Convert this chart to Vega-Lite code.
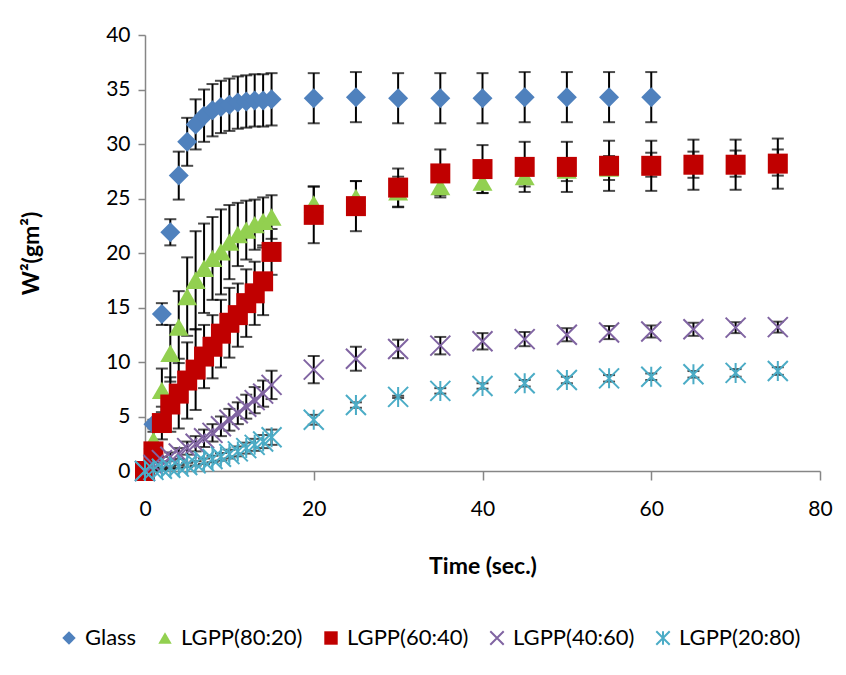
{
  "$schema": "https://vega.github.io/schema/vega-lite/v6.json",
  "width": 675,
  "height": 436,
  "autosize": "none",
  "padding": {"left": 145, "top": 35, "right": 26, "bottom": 204},
  "background": "white",
  "config": {
    "view": {"stroke": null},
    "font": "Lato",
    "axis": {
      "grid": false,
      "domainColor": "#868686",
      "domainWidth": 1.5,
      "tickColor": "#868686",
      "tickWidth": 1.5,
      "labelFont": "Lato",
      "labelFontSize": 21,
      "labelColor": "#000000",
      "labelFlush": false,
      "titleFont": "Lato",
      "titleFontSize": 23,
      "titleFontWeight": "bold",
      "titleColor": "#000000"
    },
    "legend": {
      "orient": "none",
      "legendX": -87,
      "legendY": 592,
      "direction": "horizontal",
      "columns": 5,
      "columnPadding": 17,
      "labelFont": "Lato",
      "labelFontSize": 22,
      "labelColor": "#000000",
      "labelOffset": 5,
      "symbolSize": 180,
      "symbolStrokeWidth": 2,
      "title": null
    }
  },
  "data": {
    "values": [
      {"s": "Glass", "t": 0, "v": 0, "e": 0},
      {"s": "Glass", "t": 1, "v": 4.3, "e": 0.4},
      {"s": "Glass", "t": 2, "v": 14.4, "e": 1.0},
      {"s": "Glass", "t": 3, "v": 21.9, "e": 1.2},
      {"s": "Glass", "t": 4, "v": 27.1, "e": 2.2},
      {"s": "Glass", "t": 5, "v": 30.2, "e": 2.2},
      {"s": "Glass", "t": 6, "v": 31.8, "e": 2.3},
      {"s": "Glass", "t": 7, "v": 32.6, "e": 2.4},
      {"s": "Glass", "t": 8, "v": 33.1, "e": 2.4},
      {"s": "Glass", "t": 9, "v": 33.4, "e": 2.4},
      {"s": "Glass", "t": 10, "v": 33.6, "e": 2.4},
      {"s": "Glass", "t": 11, "v": 33.8, "e": 2.4},
      {"s": "Glass", "t": 12, "v": 33.9, "e": 2.4},
      {"s": "Glass", "t": 13, "v": 34.0, "e": 2.4},
      {"s": "Glass", "t": 14, "v": 34.0, "e": 2.4},
      {"s": "Glass", "t": 15, "v": 34.1, "e": 2.4},
      {"s": "Glass", "t": 20, "v": 34.2, "e": 2.3},
      {"s": "Glass", "t": 25, "v": 34.3, "e": 2.3},
      {"s": "Glass", "t": 30, "v": 34.2, "e": 2.3},
      {"s": "Glass", "t": 35, "v": 34.2, "e": 2.3},
      {"s": "Glass", "t": 40, "v": 34.2, "e": 2.3},
      {"s": "Glass", "t": 45, "v": 34.3, "e": 2.3},
      {"s": "Glass", "t": 50, "v": 34.3, "e": 2.3},
      {"s": "Glass", "t": 55, "v": 34.3, "e": 2.3},
      {"s": "Glass", "t": 60, "v": 34.3, "e": 2.3},

      {"s": "LGPP(80:20)", "t": 0, "v": 0, "e": 0},
      {"s": "LGPP(80:20)", "t": 1, "v": 2.8, "e": 0.8},
      {"s": "LGPP(80:20)", "t": 2, "v": 7.4, "e": 2.0},
      {"s": "LGPP(80:20)", "t": 3, "v": 10.8, "e": 2.6},
      {"s": "LGPP(80:20)", "t": 4, "v": 13.2, "e": 3.3},
      {"s": "LGPP(80:20)", "t": 5, "v": 16.0, "e": 3.6},
      {"s": "LGPP(80:20)", "t": 6, "v": 17.5, "e": 4.5},
      {"s": "LGPP(80:20)", "t": 7, "v": 18.6, "e": 4.1},
      {"s": "LGPP(80:20)", "t": 8, "v": 19.5, "e": 3.8},
      {"s": "LGPP(80:20)", "t": 9, "v": 20.1, "e": 3.9},
      {"s": "LGPP(80:20)", "t": 10, "v": 21.0, "e": 3.4},
      {"s": "LGPP(80:20)", "t": 11, "v": 21.7, "e": 2.9},
      {"s": "LGPP(80:20)", "t": 12, "v": 22.1, "e": 2.7},
      {"s": "LGPP(80:20)", "t": 13, "v": 22.6, "e": 2.3},
      {"s": "LGPP(80:20)", "t": 14, "v": 22.9, "e": 2.2},
      {"s": "LGPP(80:20)", "t": 15, "v": 23.3, "e": 2.0},
      {"s": "LGPP(80:20)", "t": 20, "v": 24.5, "e": 1.6},
      {"s": "LGPP(80:20)", "t": 25, "v": 25.1, "e": 1.5},
      {"s": "LGPP(80:20)", "t": 30, "v": 25.6, "e": 1.4},
      {"s": "LGPP(80:20)", "t": 35, "v": 26.1, "e": 0.8},
      {"s": "LGPP(80:20)", "t": 40, "v": 26.5, "e": 1.0},
      {"s": "LGPP(80:20)", "t": 45, "v": 27.0, "e": 0.9},
      {"s": "LGPP(80:20)", "t": 50, "v": 27.6, "e": 1.0},
      {"s": "LGPP(80:20)", "t": 55, "v": 27.8, "e": 1.1},
      {"s": "LGPP(80:20)", "t": 60, "v": 28.1, "e": 1.1},
      {"s": "LGPP(80:20)", "t": 65, "v": 28.1, "e": 1.2},
      {"s": "LGPP(80:20)", "t": 70, "v": 28.2, "e": 1.2},
      {"s": "LGPP(80:20)", "t": 75, "v": 28.3, "e": 1.2},

      {"s": "LGPP(60:40)", "t": 0, "v": 0, "e": 0},
      {"s": "LGPP(60:40)", "t": 1, "v": 1.8, "e": 0.5},
      {"s": "LGPP(60:40)", "t": 2, "v": 4.4, "e": 1.5},
      {"s": "LGPP(60:40)", "t": 3, "v": 6.1, "e": 2.5},
      {"s": "LGPP(60:40)", "t": 4, "v": 7.1, "e": 3.2},
      {"s": "LGPP(60:40)", "t": 5, "v": 8.3, "e": 3.5},
      {"s": "LGPP(60:40)", "t": 6, "v": 9.3, "e": 3.7},
      {"s": "LGPP(60:40)", "t": 7, "v": 10.5, "e": 2.9},
      {"s": "LGPP(60:40)", "t": 8, "v": 11.4, "e": 2.9},
      {"s": "LGPP(60:40)", "t": 9, "v": 12.6, "e": 3.1},
      {"s": "LGPP(60:40)", "t": 10, "v": 13.6, "e": 3.2},
      {"s": "LGPP(60:40)", "t": 11, "v": 14.3, "e": 2.9},
      {"s": "LGPP(60:40)", "t": 12, "v": 15.4, "e": 3.1},
      {"s": "LGPP(60:40)", "t": 13, "v": 16.3, "e": 2.9},
      {"s": "LGPP(60:40)", "t": 14, "v": 17.4, "e": 3.1},
      {"s": "LGPP(60:40)", "t": 15, "v": 20.1, "e": 2.1},
      {"s": "LGPP(60:40)", "t": 20, "v": 23.5, "e": 2.6},
      {"s": "LGPP(60:40)", "t": 25, "v": 24.3, "e": 2.3},
      {"s": "LGPP(60:40)", "t": 30, "v": 26.0, "e": 1.75},
      {"s": "LGPP(60:40)", "t": 35, "v": 27.3, "e": 2.2},
      {"s": "LGPP(60:40)", "t": 40, "v": 27.7, "e": 2.2},
      {"s": "LGPP(60:40)", "t": 45, "v": 27.9, "e": 2.3},
      {"s": "LGPP(60:40)", "t": 50, "v": 27.9, "e": 2.3},
      {"s": "LGPP(60:40)", "t": 55, "v": 28.0, "e": 2.3},
      {"s": "LGPP(60:40)", "t": 60, "v": 28.0, "e": 2.3},
      {"s": "LGPP(60:40)", "t": 65, "v": 28.1, "e": 2.3},
      {"s": "LGPP(60:40)", "t": 70, "v": 28.1, "e": 2.3},
      {"s": "LGPP(60:40)", "t": 75, "v": 28.2, "e": 2.3},

      {"s": "LGPP(40:60)", "t": 0, "v": 0, "e": 0},
      {"s": "LGPP(40:60)", "t": 1, "v": 0.55, "e": 0.2},
      {"s": "LGPP(40:60)", "t": 2, "v": 1.0, "e": 0.3},
      {"s": "LGPP(40:60)", "t": 3, "v": 1.3, "e": 0.4},
      {"s": "LGPP(40:60)", "t": 4, "v": 1.6, "e": 0.5},
      {"s": "LGPP(40:60)", "t": 5, "v": 2.1, "e": 0.6},
      {"s": "LGPP(40:60)", "t": 6, "v": 2.5, "e": 0.7},
      {"s": "LGPP(40:60)", "t": 7, "v": 3.0, "e": 0.8},
      {"s": "LGPP(40:60)", "t": 8, "v": 3.5, "e": 0.8},
      {"s": "LGPP(40:60)", "t": 9, "v": 4.1, "e": 0.9},
      {"s": "LGPP(40:60)", "t": 10, "v": 4.7, "e": 1.0},
      {"s": "LGPP(40:60)", "t": 11, "v": 5.3, "e": 1.0},
      {"s": "LGPP(40:60)", "t": 12, "v": 5.9, "e": 1.1},
      {"s": "LGPP(40:60)", "t": 13, "v": 6.5, "e": 1.2},
      {"s": "LGPP(40:60)", "t": 14, "v": 7.1, "e": 1.2},
      {"s": "LGPP(40:60)", "t": 15, "v": 7.9, "e": 1.3},
      {"s": "LGPP(40:60)", "t": 20, "v": 9.3, "e": 1.25},
      {"s": "LGPP(40:60)", "t": 25, "v": 10.3, "e": 1.1},
      {"s": "LGPP(40:60)", "t": 30, "v": 11.2, "e": 0.85},
      {"s": "LGPP(40:60)", "t": 35, "v": 11.5, "e": 0.8},
      {"s": "LGPP(40:60)", "t": 40, "v": 11.9, "e": 0.75},
      {"s": "LGPP(40:60)", "t": 45, "v": 12.1, "e": 0.65},
      {"s": "LGPP(40:60)", "t": 50, "v": 12.5, "e": 0.6},
      {"s": "LGPP(40:60)", "t": 55, "v": 12.7, "e": 0.6},
      {"s": "LGPP(40:60)", "t": 60, "v": 12.8, "e": 0.55},
      {"s": "LGPP(40:60)", "t": 65, "v": 13.0, "e": 0.6},
      {"s": "LGPP(40:60)", "t": 70, "v": 13.15, "e": 0.5},
      {"s": "LGPP(40:60)", "t": 75, "v": 13.2, "e": 0.5},

      {"s": "LGPP(20:80)", "t": 0, "v": 0, "e": 0},
      {"s": "LGPP(20:80)", "t": 1, "v": 0.1, "e": 0.05},
      {"s": "LGPP(20:80)", "t": 2, "v": 0.2, "e": 0.1},
      {"s": "LGPP(20:80)", "t": 3, "v": 0.3, "e": 0.1},
      {"s": "LGPP(20:80)", "t": 4, "v": 0.4, "e": 0.15},
      {"s": "LGPP(20:80)", "t": 5, "v": 0.55, "e": 0.2},
      {"s": "LGPP(20:80)", "t": 6, "v": 0.7, "e": 0.2},
      {"s": "LGPP(20:80)", "t": 7, "v": 0.9, "e": 0.25},
      {"s": "LGPP(20:80)", "t": 8, "v": 1.1, "e": 0.3},
      {"s": "LGPP(20:80)", "t": 9, "v": 1.3, "e": 0.35},
      {"s": "LGPP(20:80)", "t": 10, "v": 1.55, "e": 0.4},
      {"s": "LGPP(20:80)", "t": 11, "v": 1.8, "e": 0.45},
      {"s": "LGPP(20:80)", "t": 12, "v": 2.1, "e": 0.5},
      {"s": "LGPP(20:80)", "t": 13, "v": 2.4, "e": 0.55},
      {"s": "LGPP(20:80)", "t": 14, "v": 2.7, "e": 0.6},
      {"s": "LGPP(20:80)", "t": 15, "v": 3.1, "e": 0.7},
      {"s": "LGPP(20:80)", "t": 20, "v": 4.7, "e": 0.45},
      {"s": "LGPP(20:80)", "t": 25, "v": 6.05, "e": 0.25},
      {"s": "LGPP(20:80)", "t": 30, "v": 6.8, "e": 0.1},
      {"s": "LGPP(20:80)", "t": 35, "v": 7.35, "e": 0.25},
      {"s": "LGPP(20:80)", "t": 40, "v": 7.8, "e": 0.25},
      {"s": "LGPP(20:80)", "t": 45, "v": 8.05, "e": 0.3},
      {"s": "LGPP(20:80)", "t": 50, "v": 8.35, "e": 0.3},
      {"s": "LGPP(20:80)", "t": 55, "v": 8.5, "e": 0.3},
      {"s": "LGPP(20:80)", "t": 60, "v": 8.65, "e": 0.3},
      {"s": "LGPP(20:80)", "t": 65, "v": 8.87, "e": 0.3},
      {"s": "LGPP(20:80)", "t": 70, "v": 9.0, "e": 0.35},
      {"s": "LGPP(20:80)", "t": 75, "v": 9.17, "e": 0.35}
    ]
  },
  "encoding": {
    "x": {
      "field": "t",
      "type": "quantitative",
      "scale": {"domain": [0, 80], "nice": false, "zero": false},
      "axis": {
        "values": [0, 20, 40, 60, 80],
        "title": "Time (sec.)",
        "tickSize": 9,
        "labelPadding": 18,
        "titlePadding": 36
      }
    },
    "y": {
      "field": "v",
      "type": "quantitative",
      "scale": {"domain": [0, 40], "nice": false},
      "axis": {
        "values": [0, 5, 10, 15, 20, 25, 30, 35, 40],
        "title": "W²(gm²)",
        "tickSize": 7,
        "labelPadding": 8,
        "titlePadding": 62
      }
    }
  },
  "layer": [
    {
      "transform": [{"filter": "datum.e > 0"}],
      "mark": {"type": "errorbar", "color": "#000000", "thickness": 2, "size": 12, "ticks": true},
      "encoding": {"yError": {"field": "e"}}
    },
    {
      "mark": {"type": "point", "filled": true, "size": 400, "strokeWidth": 2, "opacity": 1},
      "encoding": {
        "fill": {
          "field": "s",
          "type": "nominal",
          "scale": {
            "domain": ["Glass", "LGPP(80:20)", "LGPP(60:40)", "LGPP(40:60)", "LGPP(20:80)"],
            "range": ["#4F81BD", "#92D050", "#C00000", "transparent", "transparent"]
          }
        },
        "stroke": {
          "field": "s",
          "type": "nominal",
          "scale": {
            "domain": ["Glass", "LGPP(80:20)", "LGPP(60:40)", "LGPP(40:60)", "LGPP(20:80)"],
            "range": ["transparent", "transparent", "transparent", "#8064A2", "#4BACC6"]
          }
        },
        "shape": {
          "field": "s",
          "type": "nominal",
          "scale": {
            "domain": ["Glass", "LGPP(80:20)", "LGPP(60:40)", "LGPP(40:60)", "LGPP(20:80)"],
            "range": ["diamond", "triangle-up", "square", "M-1,-1L1,1M1,-1L-1,1", "M-1,-1L1,1M1,-1L-1,1M0,-1L0,1"]
          }
        }
      }
    }
  ]
}
